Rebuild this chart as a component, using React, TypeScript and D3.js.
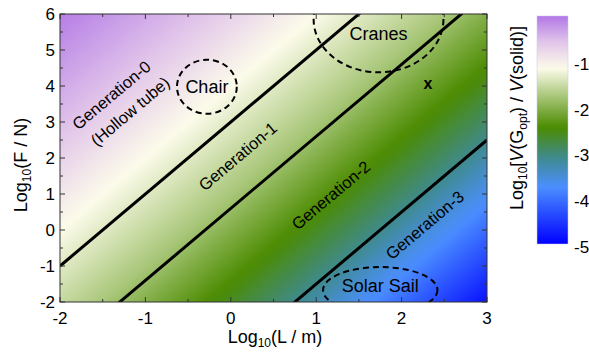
import React from 'react';
import * as d3 from 'd3';

// axes
const xTicks = [-2, -1, 0, 1, 2, 3];
const yTicks = [-2, -1, 0, 1, 2, 3, 4, 5, 6];
const cbTicks = [-5, -4, -3, -2, -1];

// colour bar: level -> colour
const cbLevels = [-5, -3.75, -3.1, -2.45, -1.75, -1.15, -0.6, 0];
const cbColors = ['#0000ff', '#4b8fff', '#3f8a8c', '#4b8b00', '#a9c77a', '#fcfbea', '#e3c8ea', '#b277e6'];

// field value along k = log F - 2 log L
const fieldK = [-8, -5.2, -3.5, -1.5, 1, 4, 6.5, 10];
const fieldV = [-4.85, -3.75, -3.1, -2.45, -1.75, -1.15, -0.6, -0.05];

// generation boundaries: log F = 2 log L + k
const boundaryK = [3, 0.6, -3.5];

// dashed regions [label, cx, cy, rx, ry] in data units
const regions: [string, number, number, number, number][] = [
  ['Chair', -0.28, 3.98, 0.35, 0.75],
  ['Cranes', 1.73, 5.85, 0.76, 1.47],
  ['Solar Sail', 1.75, -1.67, 0.67, 0.64],
];
const regionLabelY = [3.98, 5.45, -1.55];

// rotated generation labels [text, x, y]
const genLabels: [string, number, number][] = [
  ['Generation-0', -1.4, 3.75],
  ['(Hollow tube)', -1.18, 3.3],
  ['Generation-1', 0.08, 2.05],
  ['Generation-2', 1.17, 0.97],
  ['Generation-3', 2.27, 0.14],
];

const FONT = '"Liberation Sans", Arial, sans-serif';

export default function App() {
  const W = 589, H = 354;
  const x = d3.scaleLinear().domain([-2, 3]).range([60, 487]);
  const y = d3.scaleLinear().domain([-2, 6]).range([302, 14]);
  const cbY = d3.scaleLinear().domain([-5, 0]).range([244, 16]);
  const cbX0 = 537, cbW = 31;

  const color = d3.scaleLinear<string>().domain(cbLevels).range(cbColors).interpolate(d3.interpolateRgb);
  const fieldScale = d3.scaleLinear().domain(fieldK).range(fieldV).clamp(true);

  // gradient direction in pixel space (k grows toward top-left)
  const sx = (x(1) - x(0)), sy = (y(1) - y(0));
  const gx = -2 / sx, gy = 1 / sy;
  const g2 = gx * gx + gy * gy;
  const kMin = -8, kMax = 10;
  const p1 = [x(3), y(-2)];
  const p2 = [p1[0] + gx * (kMax - kMin) / g2, p1[1] + gy * (kMax - kMin) / g2];
  const N = 60;
  const fieldStops = d3.range(N + 1).map(i => {
    const k = kMin + (kMax - kMin) * i / N;
    return { off: i / N, c: color(fieldScale(k)) };
  });
  const cbStops = d3.range(N + 1).map(i => ({ off: i / N, c: color(-5 + 5 * i / N) }));

  const angle = -Math.atan2(2 * -sy, sx) * 180 / Math.PI;

  const xMinor = d3.range(-2, 3.01, 0.5);
  const yMinor = d3.range(-2, 6.01, 0.5);
  const [x0, x1] = x.range();
  const [y0, y1] = y.range();

  return (
    <svg width={W} height={H} style={{ position: 'absolute', left: 0, top: 0, background: '#fff' }} fontFamily={FONT}>
      <defs>
        <linearGradient id="field" gradientUnits="userSpaceOnUse" x1={p1[0]} y1={p1[1]} x2={p2[0]} y2={p2[1]}>
          {fieldStops.map((s, i) => <stop key={i} offset={s.off} stopColor={s.c} />)}
        </linearGradient>
        <linearGradient id="cb" x1="0" y1="1" x2="0" y2="0">
          {cbStops.map((s, i) => <stop key={i} offset={s.off} stopColor={s.c} />)}
        </linearGradient>
        <clipPath id="plot">
          <rect x={x0} y={y1} width={x1 - x0} height={y0 - y1} />
        </clipPath>
      </defs>

      <rect x={x0} y={y1} width={x1 - x0} height={y0 - y1} fill="url(#field)" />

      <g clipPath="url(#plot)">
        {boundaryK.map(k => (
          <line key={k} x1={x(-2)} y1={y(2 * -2 + k)} x2={x(3)} y2={y(2 * 3 + k)}
            stroke="#000" strokeWidth={3} />
        ))}
        {regions.map(([name, cx, cy, rx, ry]) => (
          <ellipse key={name} cx={x(cx)} cy={y(cy)} rx={x(cx + rx) - x(cx)} ry={y(cy - ry) - y(cy)}
            fill="none" stroke="#000" strokeWidth={2} strokeDasharray="6,4" />
        ))}
      </g>

      {regions.map(([name, cx], i) => (
        <text key={name} x={x(cx)} y={y(regionLabelY[i])} fontSize={18} textAnchor="middle" dominantBaseline="central">{name}</text>
      ))}
      <text x={x(2.31)} y={y(4.08)} fontSize={16} fontWeight="bold" textAnchor="middle" dominantBaseline="central">x</text>

      {genLabels.map(([t, gxp, gyp]) => (
        <text key={t} transform={`translate(${x(gxp)},${y(gyp)}) rotate(${angle})`} fontSize={16.5}
          textAnchor="middle" dominantBaseline="central">{t}</text>
      ))}

      {/* ticks, inward on all sides */}
      <g stroke="#333" strokeWidth={1}>
        {xMinor.map(v => {
          const len = Number.isInteger(v) ? 5 : 3;
          return (
            <g key={'x' + v}>
              <line x1={x(v)} x2={x(v)} y1={y0} y2={y0 - len} />
              <line x1={x(v)} x2={x(v)} y1={y1} y2={y1 + len} />
            </g>
          );
        })}
        {yMinor.map(v => {
          const len = Number.isInteger(v) ? 5 : 3;
          return (
            <g key={'y' + v}>
              <line x1={x0} x2={x0 + len} y1={y(v)} y2={y(v)} />
              <line x1={x1} x2={x1 - len} y1={y(v)} y2={y(v)} />
            </g>
          );
        })}
      </g>
      <rect x={x0} y={y1} width={x1 - x0} height={y0 - y1} fill="none" stroke="#333" strokeWidth={1} />

      {xTicks.map(v => (
        <text key={v} x={x(v)} y={324} fontSize={17} textAnchor="middle">{v}</text>
      ))}
      {yTicks.map(v => (
        <text key={v} x={55} y={y(v)} fontSize={17} textAnchor="end" dominantBaseline="central">{v}</text>
      ))}

      <text x={275} y={343} fontSize={18} textAnchor="middle">
        Log<tspan fontSize={12} dy={4}>10</tspan><tspan dy={-4}>(L / m)</tspan>
      </text>
      <text transform="translate(27,165) rotate(-90)" fontSize={18} textAnchor="middle">
        Log<tspan fontSize={12} dy={4}>10</tspan><tspan dy={-4}>(F / N)</tspan>
      </text>

      {/* colour bar */}
      <rect x={cbX0} y={cbY(0)} width={cbW} height={cbY(-5) - cbY(0)} fill="url(#cb)" stroke="#c8c8e8" strokeWidth={0.5} />
      {cbTicks.map(v => (
        <text key={v} x={574} y={cbY(v) + 3} fontSize={17} dominantBaseline="central">{v}</text>
      ))}
      <text transform="translate(523,118) rotate(-90)" fontSize={18} textAnchor="middle">
        Log<tspan fontSize={12} dy={4}>10</tspan><tspan dy={-4}>[</tspan>
        <tspan fontStyle="italic">V</tspan>(G<tspan fontSize={12} dy={4}>opt</tspan><tspan dy={-4}>) / </tspan>
        <tspan fontStyle="italic">V</tspan>(solid)]
      </text>
    </svg>
  );
}
